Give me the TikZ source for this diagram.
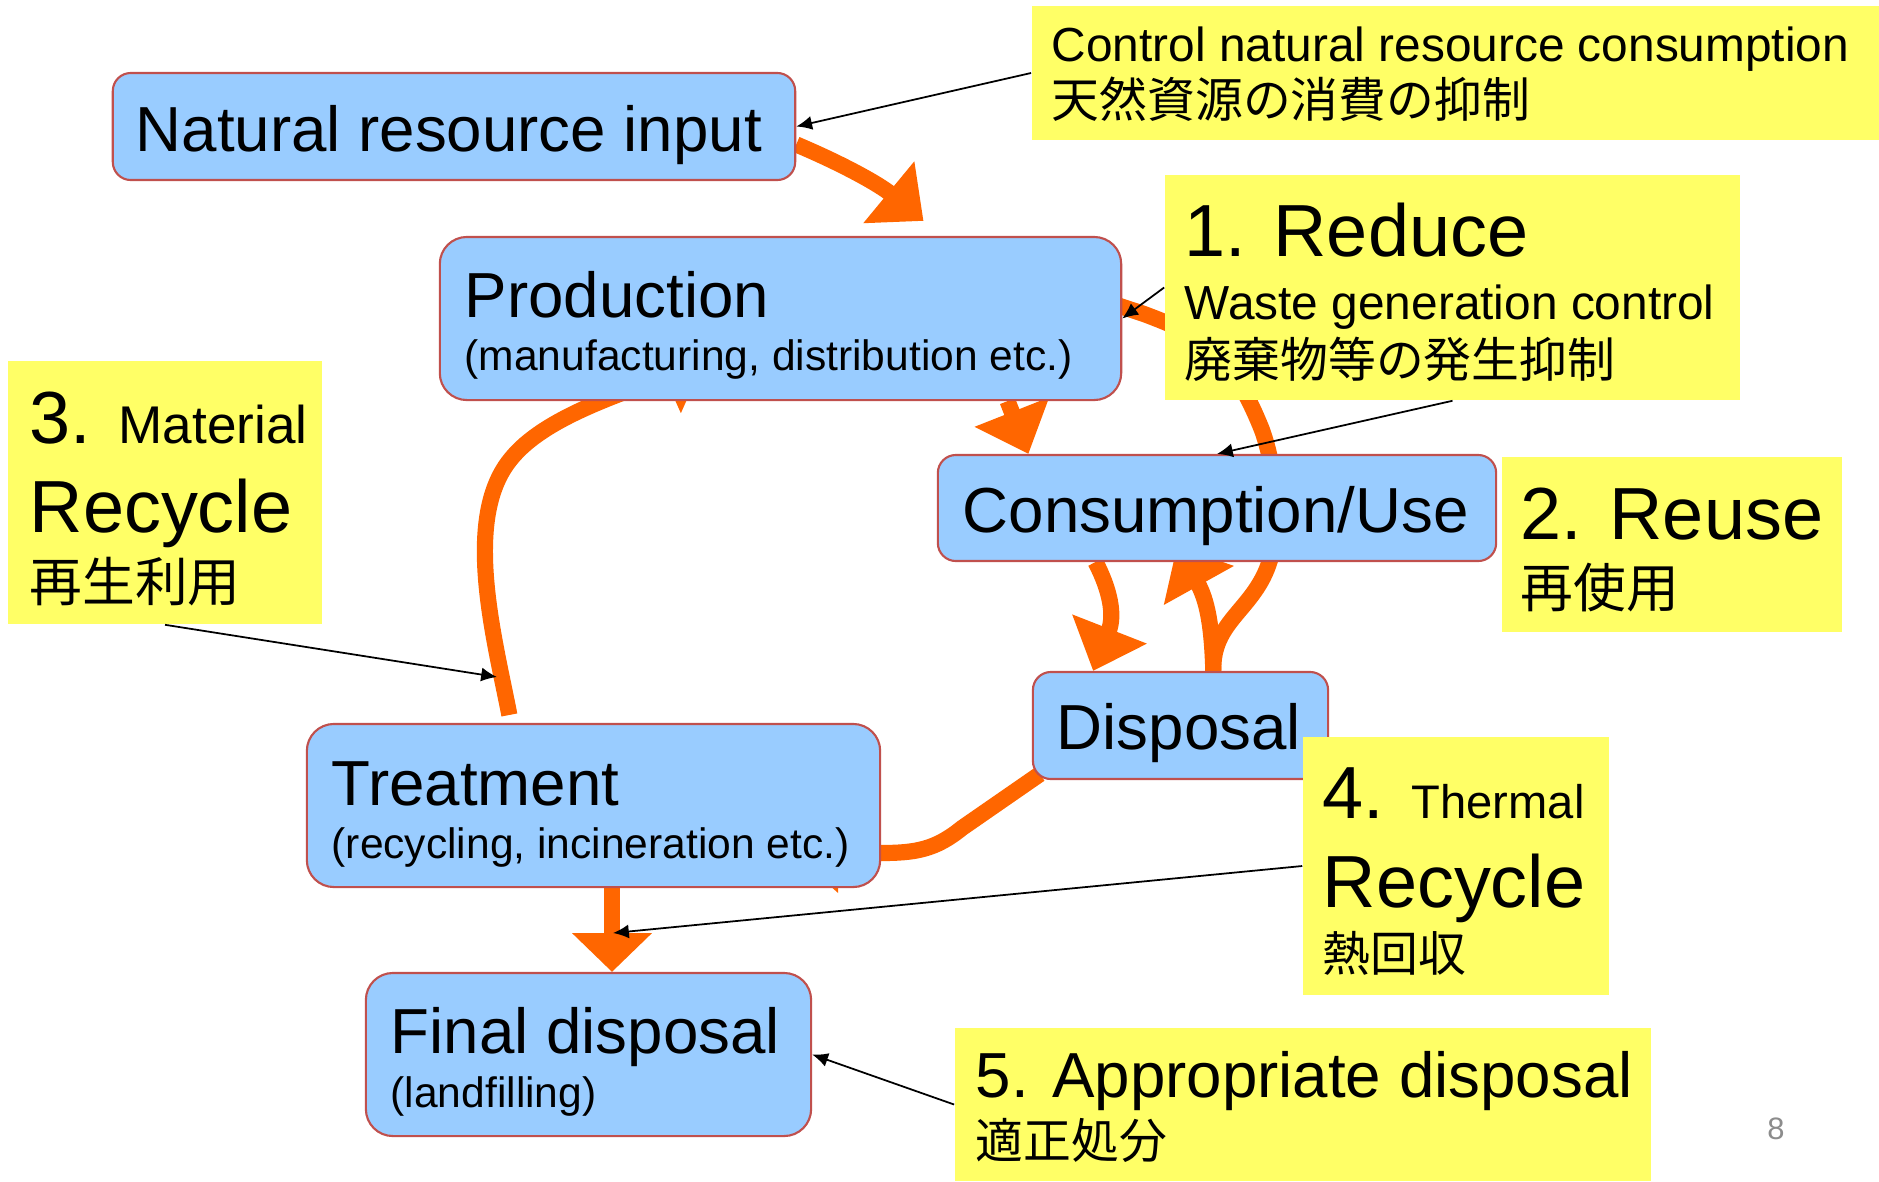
\documentclass[tikz,border=0pt]{standalone}
\usepackage{fontspec}
\setmainfont{Liberation Sans}
\newfontfamily\jpfont{Noto Sans CJK JP}
\usetikzlibrary{arrows.meta,calc,backgrounds}

\definecolor{boxfill}{HTML}{99CCFF}
\definecolor{boxline}{RGB}{192,80,77}
\definecolor{notefill}{HTML}{FFFF66}
\definecolor{flowcol}{HTML}{FF6600}
\definecolor{pagegray}{RGB}{140,140,140}

\newcommand\szbig{\fontsize{21}{25}\selectfont}
\newcommand\szmid{\fontsize{18.1}{22}\selectfont}
\newcommand\sznote{\fontsize{13.6}{16}\selectfont}
\newcommand\szsub{\fontsize{12.1}{14}\selectfont}

\tikzset{
  procbox/.style={draw=boxline, fill=boxfill, line width=0.6pt, rounded corners=0.18cm},
  notebox/.style={fill=notefill, inner sep=0pt},
  txt/.style={anchor=base west, inner sep=0pt},
  flowline/.style={draw=flowcol, line width=4.6pt},
  flow/.style={flowline, -{Triangle[length=12.8pt,width=22pt]}},
  pointer/.style={draw=black, line width=0.5pt, -{Latex[length=4.5pt,width=4pt]}},
}

\begin{document}
\begin{tikzpicture}[x=0.01cm, y=-0.01cm]
\useasboundingbox (0,0) rectangle (1879,1181);

% process boxes
\node[procbox, minimum width=6.82cm, minimum height=1.07cm] (nri) at (454,126.5) {};
\node[procbox, rounded corners=0.27cm, minimum width=6.81cm, minimum height=1.63cm] (prod) at (780.5,318.5) {};
\node[procbox, minimum width=5.58cm, minimum height=1.06cm] (cons) at (1217,508) {};
\node[procbox, minimum width=2.95cm, minimum height=1.07cm] (disp) at (1180.5,725.5) {};
\node[procbox, rounded corners=0.27cm, minimum width=5.73cm, minimum height=1.63cm] (treat) at (593.5,805.5) {};
\node[procbox, rounded corners=0.27cm, minimum width=4.45cm, minimum height=1.63cm] (final) at (588.5,1054.5) {};

% notes
\node[notebox, minimum width=8.47cm, minimum height=1.34cm] (ctrl) at (1455.5,73) {};
\node[notebox, minimum width=5.75cm, minimum height=2.25cm] (redu) at (1452.5,287.5) {};
\node[notebox, minimum width=3.14cm, minimum height=2.63cm] (matl) at (165,492.5) {};
\node[notebox, minimum width=3.40cm, minimum height=1.75cm] (reus) at (1672,544.5) {};
\node[notebox, minimum width=3.06cm, minimum height=2.58cm] (therm) at (1456,866) {};
\node[notebox, minimum width=6.96cm, minimum height=1.53cm] (appr) at (1303,1104.5) {};

\node[txt, font=\szmid] (nriA) at (135,151) {Natural resource input};
\node[txt, font=\szmid] (prodA) at (464,317) {Production};
\node[txt, font=\szsub] (prodB) at (464,370) {(manufacturing, distribution etc.)};
\node[txt, font=\szmid] (consA) at (962,532) {Consumption/Use};
\node[txt, font=\szmid] (dispA) at (1056,749) {Disposal};
\node[txt, font=\szmid] (treatA) at (331,805) {Treatment};
\node[txt, font=\szsub] (treatB) at (331,858) {(recycling, incineration etc.)};
\node[txt, font=\szmid] (finalA) at (390,1053) {Final disposal};
\node[txt, font=\szsub] (finalB) at (390,1107) {(landfilling)};

\node[txt, font=\sznote] (ctrlA) at (1051,61) {Control natural resource consumption};
\node[txt, font=\sznote\jpfont] (ctrlB) at (1051,117) {天然資源の消費の抑制};
\node[txt, font=\szbig] (reduA) at (1184,256) {1. Reduce};
\node[txt, font=\sznote] (reduB) at (1184,319) {Waste generation control};
\node[txt, font=\sznote\jpfont] (reduC) at (1184,377) {廃棄物等の発生抑制};
\node[txt] (matlA) at (29,443) {{\szbig 3. }{\fontsize{15.1}{18}\selectfont Material}};
\node[txt, font=\szbig] (matlB) at (29,532) {Recycle};
\node[txt, font=\fontsize{15}{18}\selectfont\jpfont] (matlC) at (29,601) {再生利用};
\node[txt, font=\szbig] (reusA) at (1520,539) {2. Reuse};
\node[txt, font=\fontsize{15}{18}\selectfont\jpfont] (reusB) at (1520,607) {再使用};
\node[txt] (thermA) at (1322,818) {{\szbig 4. }{\fontsize{13.4}{16}\selectfont Thermal}};
\node[txt, font=\szbig] (thermB) at (1322,907) {Recycle};
\node[txt, font=\sznote\jpfont] (thermC) at (1322,971) {熱回収};
\node[txt, font=\szmid] (apprA) at (975,1097) {5. Appropriate disposal};
\node[txt, font=\sznote\jpfont] (apprB) at (975,1158) {適正処分};

\node[font=\fontsize{8.8}{10}\selectfont, text=pagegray] (pgnum) at (1776,1129) {8};

\begin{scope}[on background layer]
\draw[flow] (nri.-3) .. controls (845,165) and (880,185) .. ($(prod.north)+(143,-15)$);
\draw[flow] (prod.-20.5) -- (cons.164);
\draw[flow] (cons.-156) .. controls (1110,590) and (1115,615) .. (disp.148.6);
\draw[flow] (disp.59.5) .. controls (1212,625) and (1207,600) .. ($(cons.south)+(-40,-16)$);
\draw[flowline] (disp.59.5) .. controls (1212,620) and (1255,610) .. (1270,560)
  .. controls (1276,500) and (1276,470) .. (1262,430)
  .. controls (1230,350) and (1200,335) .. (1144,314) -- ($(prod.east)+(-25,-20)$);
\draw[flow, shorten <=2.3pt] (treat.135) .. controls (495,640) and (462,520) .. (510,460)
  .. controls (545,415) and (630,392) .. ($(prod.south)+(-75,-43)$);
\draw[flow] ($(disp.south west)+(8,-6)$) -- (962,828) .. controls (935,850) and (915,853) .. (880,853)
  -- ($(treat.east)+(-88,47.5)$);
\draw[flow, -{Triangle[length=11pt,width=22pt]}] ($(treat.south)+(18.5,0)$) -- ($(final.north)+(23.5,0)$);
\end{scope}

\coordinate (mrpt) at (497,677);
\coordinate (trpt) at (613,933);
\draw[pointer] (ctrl.west) -- (nri.east);
\draw[pointer] (redu.west) -- (prod.east);
\draw[pointer] (redu.south) -- (cons.north);
\draw[pointer] (matl.south) -- (mrpt);
\draw[pointer] (therm.west) -- (trpt);
\draw[pointer] (appr.west) -- (final.east);

\end{tikzpicture}
\end{document}
